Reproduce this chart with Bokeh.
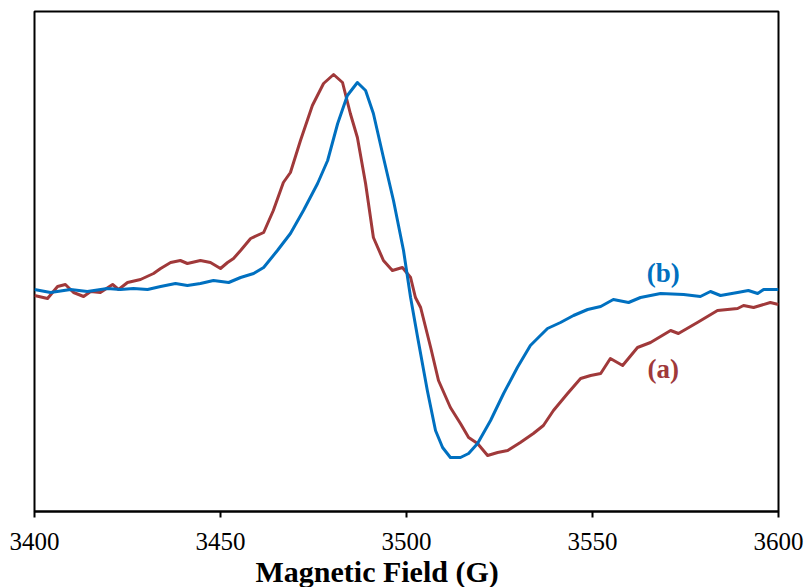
from bokeh.plotting import figure
from bokeh.models import Range1d, FixedTicker, Title
from bokeh.core.properties import value
from bokeh.embed import file_html
from bokeh.resources import INLINE

# Field (G) and signal (arbitrary units) for sample (a)
field_a = [3400.0, 3403.5, 3406.2, 3408.3, 3410.5, 3413.2, 3415.1, 3417.7, 3421.0, 3422.6,
           3425.0, 3428.5, 3432.0, 3433.9, 3436.6, 3439.2, 3441.1, 3444.6, 3447.3, 3450.0,
           3451.9, 3453.5, 3455.4, 3458.1, 3461.6, 3464.2, 3466.9, 3468.8, 3471.5, 3474.7,
           3477.7, 3480.4, 3482.8, 3484.9, 3486.8, 3489.0, 3491.1, 3493.8, 3496.2, 3498.9,
           3501.1, 3502.4, 3503.8, 3506.5, 3508.6, 3511.8, 3514.5, 3516.7, 3519.1, 3521.8,
           3524.5, 3527.2, 3530.6, 3534.1, 3536.8, 3539.5, 3543.3, 3546.8, 3549.5, 3552.2,
           3554.8, 3558.1, 3562.1, 3565.6, 3571.0, 3573.1, 3578.2, 3583.6, 3589.0, 3590.6,
           3593.3, 3597.8, 3600.0]
signal_a = [-5, -8, 4, 6, -2, -6, -1, -2, 6, 1,
            8, 11, 17, 22, 28, 30, 27, 30, 28, 22,
            28, 32, 40, 52, 58, 80, 108, 118, 150, 185,
            207, 216, 208, 177, 153, 107, 53, 30, 20, 23,
            13, -7, -17, -57, -90, -117, -133, -147, -153, -165,
            -162, -160, -152, -143, -135, -120, -103, -88, -85, -83,
            -68, -75, -57, -52, -40, -43, -32, -20, -18, -15,
            -17, -12, -14]

# Field (G) and signal (arbitrary units) for sample (b)
field_b = [3400.0, 3404.3, 3409.7, 3414.2, 3419.6, 3423.1, 3426.6, 3430.4, 3433.9, 3437.9,
           3441.1, 3444.6, 3448.1, 3452.2, 3455.4, 3458.9, 3461.6, 3465.3, 3468.8, 3472.3,
           3476.1, 3478.8, 3481.5, 3484.1, 3486.8, 3489.0, 3491.1, 3493.8, 3496.5, 3499.2,
           3501.1, 3503.0, 3505.6, 3507.8, 3509.7, 3511.8, 3514.5, 3516.7, 3519.1, 3522.6,
           3526.1, 3529.8, 3533.3, 3537.9, 3541.4, 3544.9, 3548.7, 3552.2, 3555.6, 3559.7,
           3562.9, 3568.3, 3574.5, 3579.0, 3581.7, 3584.4, 3589.0, 3591.9, 3594.4, 3596.0,
           3600.0]
signal_b = [1, -2, 1, -1, 2, 1, 2, 1, 4, 7,
            5, 7, 10, 8, 13, 17, 23, 40, 57, 80,
            107, 130, 167, 195, 208, 200, 177, 133, 90, 40,
            -7, -47, -100, -140, -157, -167, -167, -163, -153, -130,
            -103, -77, -55, -38, -32, -25, -19, -16, -9, -12,
            -7, -3, -4, -6, -1, -5, -2, 0, -3, 1,
            1]

x_ticks = [3400, 3450, 3500, 3550, 3600]
series_labels = ["(a)", "(b)"]
label_field = [3569, 3569]
label_signal = [-78, 18]
x_title = "Magnetic Field (G)"

RED = "#A0393A"
BLUE = "#0070C0"
SERIF = "Liberation Serif"

p = figure(width=805, height=587, output_backend="svg", toolbar_location=None,
           x_range=Range1d(3400, 3600), y_range=Range1d(-221, 279),
           y_axis_location=None, min_border_left=34, min_border_right=27,
           min_border_top=11, min_border_bottom=0)

p.background_fill_color = "white"
p.border_fill_color = "white"
p.outline_line_color = "black"
p.outline_line_width = 2
p.xgrid.visible = False
p.ygrid.visible = False

p.line(field_a, signal_a, line_color=RED, line_width=3, line_join="round")
p.line(field_b, signal_b, line_color=BLUE, line_width=3, line_join="round")

p.text(x=[label_field[0]], y=[label_signal[0]], text=[series_labels[0]],
       text_color=RED, text_font=value(SERIF), text_font_style="bold",
       text_font_size="27px", text_align="center", text_baseline="middle")
p.text(x=[label_field[1]], y=[label_signal[1]], text=[series_labels[1]],
       text_color=BLUE, text_font=value(SERIF), text_font_style="bold",
       text_font_size="27px", text_align="center", text_baseline="middle")

ax = p.xaxis[0]
ax.ticker = FixedTicker(ticks=x_ticks)
ax.minor_tick_line_color = None
ax.major_tick_out = 6
ax.major_tick_in = 0
ax.major_tick_line_width = 2
ax.major_tick_line_color = "black"
ax.axis_line_width = 2
ax.axis_line_color = "black"
ax.major_label_text_font = SERIF
ax.major_label_text_font_size = "25px"
ax.major_label_text_color = "black"
ax.major_label_standoff = 15

title = Title(text=x_title, align="left", offset=221, standoff=0,
              text_font=SERIF, text_font_style="bold", text_font_size="30px",
              text_color="black")
p.add_layout(title, "below")

open("out.html", "w").write(file_html(p, INLINE))
